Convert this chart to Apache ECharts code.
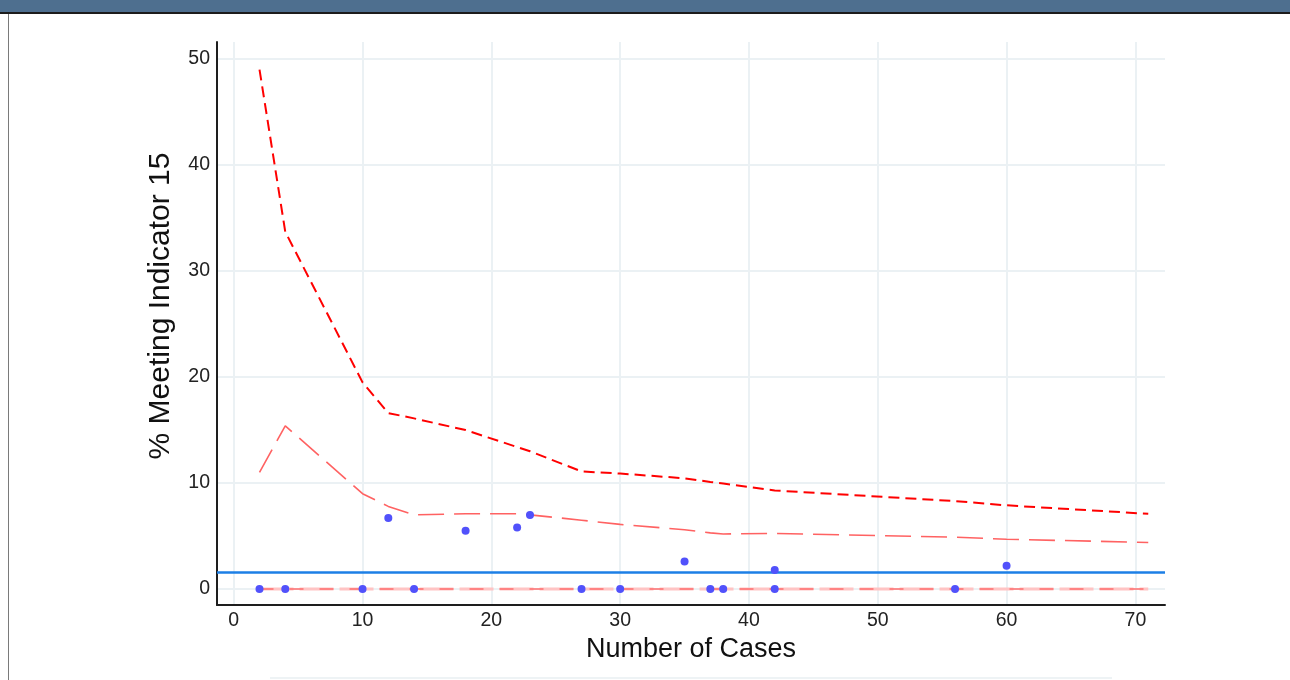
<!DOCTYPE html>
<html>
<head>
<meta charset="utf-8">
<title>Funnel plot – Indicator 15</title>
<script src="https://cdn.jsdelivr.net/npm/echarts@6/dist/echarts.min.js"></script>
<style>
  html, body { margin: 0; padding: 0; background: #ffffff; }
  body { width: 1290px; height: 680px; position: relative; overflow: hidden; }
  #chart { position: absolute; left: 0; top: 0; width: 1290px; height: 680px; }
  .banner { position: absolute; left: 0; top: 0; width: 1290px; height: 12px;
            background: #4e6f8f; border-bottom: 2px solid #1c1c1c; z-index: 2; }
  .side { position: absolute; left: 8px; top: 14px; width: 1px; height: 666px;
          background: #7a7a7a; z-index: 2; }
  .foot { position: absolute; left: 270px; top: 677px; width: 842px; height: 2px;
          background: #eef3f5; z-index: 2; }
</style>
</head>
<body>
<div class="banner"></div>
<div class="side"></div>
<div class="foot"></div>
<div id="chart"></div>
<script>
// Number of cases per unit (x positions of the control limits)
const caseCounts = [2, 4, 10, 12, 14, 18, 22, 23, 27, 30, 35, 37, 38, 42, 56, 60, 71];
// Upper 99.8% control limit (%)
const upper998 = [49.0, 33.7, 19.5, 16.6, 16.1, 15.0, 13.4, 13.0, 11.1, 10.9, 10.45, 10.1, 9.95, 9.3, 8.3, 7.9, 7.1];
// Upper 95% control limit (%)
const upper95 = [11.0, 15.4, 9.0, 7.8, 7.0, 7.1, 7.1, 7.0, 6.5, 6.1, 5.6, 5.3, 5.2, 5.25, 4.9, 4.7, 4.4];
// Lower 95% and 99.8% limits (%)
const lower95 = [0, 0, 0, 0, 0, 0, 0, 0, 0, 0, 0, 0, 0, 0, 0, 0, 0];
const lower998 = [0, 0, 0, 0, 0, 0, 0, 0, 0, 0, 0, 0, 0, 0, 0, 0, 0];

// Units: number of cases and % meeting indicator 15
const unitCases = [2, 4, 10, 12, 14, 18, 22, 23, 27, 30, 35, 37, 38, 42, 42, 56, 60];
const unitPct   = [0, 0, 0, 6.7, 0, 5.5, 5.8, 7.0, 0, 0, 2.6, 0, 0, 1.8, 0, 0, 2.2];

// Overall average (%)
const overallPct = 1.6;

const xTitle = 'Number of Cases';
const yTitle = '% Meeting Indicator 15';

const pairs = (xs, ys) => xs.map((x, i) => [x, ys[i]]);

const fontFam = '"Liberation Sans", Arial, sans-serif';

const limitLine = (name, data, color, width, dash, z) => ({
  name, type: 'line', data, symbol: 'none', showSymbol: false, z,
  lineStyle: { color, width, type: dash }, silent: true, animation: false
});

const chart = echarts.init(document.getElementById('chart'), null, { renderer: 'canvas' });
chart.setOption({
  animation: false,
  backgroundColor: 'transparent',
  grid: { left: 217, right: 125, top: 42, bottom: 75, outerBoundsMode: 'none', containLabel: false },
  // vertical axis title, set a little above the plot's centre
  graphic: [{
    type: 'text', x: 161, y: 306, rotation: Math.PI / 2, silent: true,
    style: { text: yTitle, fontFamily: fontFam, fontSize: 30, fill: '#111',
             align: 'center', verticalAlign: 'middle' }
  }],
  xAxis: {
    type: 'value', min: -1.3, max: 72.3, minInterval: 10, maxInterval: 10, splitNumber: 7,
    name: xTitle, nameLocation: 'middle', nameGap: 28,
    nameTextStyle: { fontFamily: fontFam, fontSize: 27, color: '#111' },
    axisLine: { show: true, onZero: false, lineStyle: { color: '#1e1e1e', width: 2 } },
    axisTick: { show: false },
    axisLabel: { fontFamily: fontFam, fontSize: 19.5, color: '#222', margin: 6,
                 showMinLabel: false, showMaxLabel: false },
    splitLine: { show: true, showMinLine: false, showMaxLine: false,
                 lineStyle: { color: '#ebf1f4', width: 2 } }
  },
  yAxis: {
    type: 'value', min: -1.5, max: 51.6, minInterval: 10, maxInterval: 10, splitNumber: 5,
    axisLine: { show: true, onZero: false, lineStyle: { color: '#1e1e1e', width: 2 } },
    axisTick: { show: false },
    axisLabel: { fontFamily: fontFam, fontSize: 19.5, color: '#222', margin: 7,
                 showMinLabel: false, showMaxLabel: false },
    splitLine: { show: true, showMinLine: false, showMaxLine: false,
                 lineStyle: { color: '#ebf1f4', width: 2 } }
  },
  series: [
    limitLine('Lower 99.8%', pairs(caseCounts, lower998), '#ffc4c4', 3, [34, 6], 2),
    limitLine('Lower 95%', pairs(caseCounts, lower95), '#ff6e6e', 1.5, [14, 16], 3),
    limitLine('Upper 95%', pairs(caseCounts, upper95), '#ff6262', 1.6, [26, 10], 3),
    limitLine('Upper 99.8%', pairs(caseCounts, upper998), '#ff0000', 2, [11, 6], 3),
    {
      name: 'Average', type: 'line', data: [], z: 4, silent: true,
      markLine: {
        silent: true, symbol: 'none', animation: false,
        label: { show: false },
        lineStyle: { color: '#1c7fe6', width: 2.5, type: 'solid' },
        data: [{ yAxis: overallPct }]
      }
    },
    {
      name: 'Units', type: 'scatter', data: pairs(unitCases, unitPct), z: 6,
      symbol: 'circle', symbolSize: 8, silent: true,
      itemStyle: { color: '#5151fb', opacity: 1 }
    }
  ]
});
</script>
</body>
</html>
